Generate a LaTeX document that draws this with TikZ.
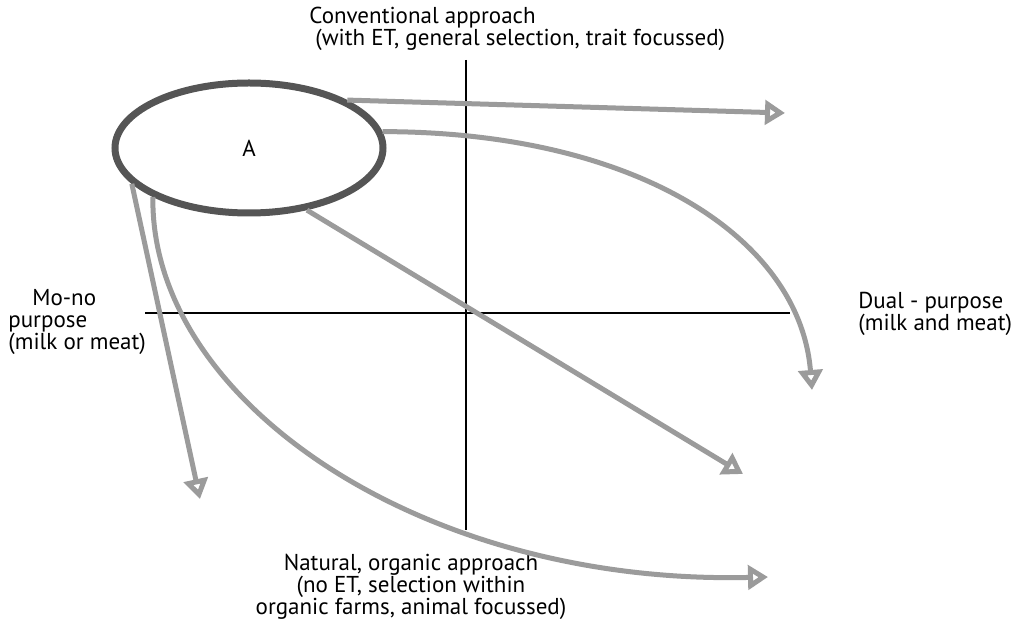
\documentclass[tikz,border=0pt]{standalone}
\usepackage{fontspec}
\setmainfont{PT Sans}
\usetikzlibrary{positioning,arrows.meta,shapes.geometric}
\definecolor{pathgray}{RGB}{155,155,155}
\definecolor{ringgray}{RGB}{85,85,85}
\tikzset{
  pathdarrow/.style={-{Triangle[open, length=10pt, width=12pt]}, line width=2.5pt, pathgray},
  axisline/.style={line width=0.75pt, black},
  ringnode/.style={draw=ringgray, ellipse, line width=3.5pt, minimum width=134pt, minimum height=65pt, inner sep=0pt},
  axislabel/.style={font=\fontsize{11.5}{11}\selectfont, inner sep=0pt}
}

\begin{document}
\begin{tikzpicture}[x=0.5pt, y=-0.5pt]
  \useasboundingbox (0,0) rectangle (1022,625);
  % axes
  \draw[axisline] (466,60) -- (466,530);
  \draw[axisline] (145,313) -- (790,313);
  \node[axislabel, anchor=north west, align=left] (conv) at (309,7) {Conventional approach\\\hspace*{3pt}(with ET, general selection, trait focussed)};
  \node[axislabel, anchor=north west, align=left] (mono) at (8,289) {\hspace*{12pt}Mo-no\\purpose\\(milk or meat)};
  \node[axislabel, anchor=north west, align=left] (dual) at (858,292) {Dual - purpose\\(milk and meat)};
  \node[axislabel, anchor=north, align=center] (natural) at (411,554) {Natural, organic approach\\(no ET, selection within\\organic farms, animal focussed)};
  % start population
  \node[ringnode, font=\fontsize{11.5}{11}\selectfont] (A) at (249,148) {A\hspace{11pt}};
  \coordinate (convend) at (785,113);
  \coordinate (dualend) at (812,390);
  \coordinate (midend) at (743,474);
  \coordinate (monoend) at (200,499);
  \coordinate (natend) at (768,577);
  \draw[pathdarrow] (A.26) -- (convend);
  \draw[pathdarrow] (A.7) .. controls (640,132) and (800,240) .. (dualend);
  \draw[pathdarrow] (A.-47) -- (midend);
  \draw[pathdarrow] (A.197) -- (monoend);
  \draw[pathdarrow] (A.207) .. controls (150,400) and (420,585) .. (natend);
\end{tikzpicture}
\end{document}
